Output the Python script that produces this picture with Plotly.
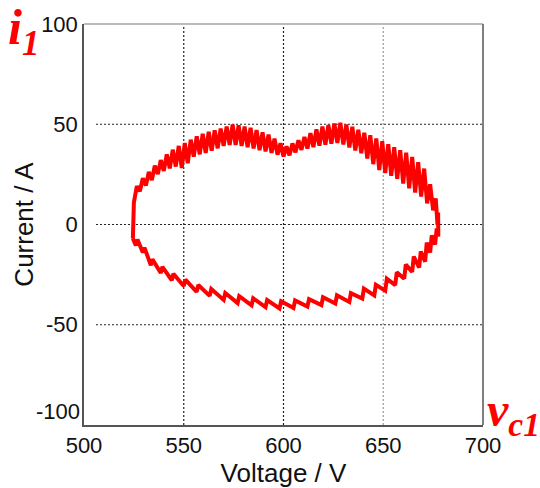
import plotly.graph_objects as go

# ---- data (voltage V, current A) ----
# upper branch of the loop (left -> right), with the high-frequency ripple
upper_v = [524.5, 524.7,
           525.0, 526.5, 528.0, 529.5, 531.0, 532.5, 534.0, 535.5, 537.0, 538.5,
           540.0, 541.5, 543.0, 544.5, 546.0, 547.5, 549.0, 550.5, 552.0, 553.5,
           555.0, 556.5, 558.0, 559.5, 561.0, 562.5, 564.0, 565.5, 567.0, 568.5,
           570.0, 571.5, 573.0, 574.5, 576.0, 577.5, 579.0, 580.5, 582.0, 583.5,
           585.0, 586.5, 588.0, 589.5, 591.0, 592.5, 594.0, 595.5, 597.0, 598.5,
           600.0, 601.5, 603.0, 604.5, 606.0, 607.5, 609.0, 610.5, 612.0, 613.5,
           615.0, 616.5, 618.0, 619.5, 621.0, 622.5, 624.0, 625.5, 627.0, 628.5,
           630.0, 631.5, 633.0, 634.5, 636.0, 637.5, 639.0, 640.5, 642.0, 643.5,
           645.0, 646.5, 648.0, 649.5, 651.0, 652.5, 654.0, 655.5, 657.0, 658.5,
           660.0, 661.5, 663.0, 664.5, 666.0, 667.5, 669.0, 670.5, 672.0, 673.5,
           675.0,
           676.3, 677.2, 677.5, 677.6]
upper_i = [-7.0, 11.0,
           11.0, 19.1, 16.6, 23.1, 19.4, 26.2, 22.2, 29.4, 25.1, 32.1,
           26.7, 35.0, 28.0, 37.3, 28.9, 39.2, 28.2, 40.6, 30.6, 42.3,
           33.8, 44.0, 35.0, 45.2, 35.7, 46.2, 36.8, 47.0, 38.0, 47.8,
           39.2, 48.9, 39.7, 49.9, 39.7, 49.5, 39.2, 48.9, 38.6, 48.2,
           37.9, 47.1, 37.1, 46.0, 36.5, 44.8, 35.7, 42.8, 34.8, 40.5,
           33.9, 39.0, 34.5, 40.4, 36.0, 42.0, 37.2, 43.7, 37.9, 45.6,
           38.6, 47.5, 39.3, 48.8, 39.8, 49.6, 40.3, 50.3, 40.7, 50.7,
           39.9, 49.9, 38.4, 48.7, 36.9, 47.2, 35.5, 45.8, 32.9, 44.5,
           30.1, 42.9, 27.2, 41.5, 25.7, 40.0, 24.3, 38.5, 22.8, 37.1,
           20.4, 35.8, 18.0, 33.7, 15.9, 31.1, 13.9, 27.9, 10.5, 20.1,
           7.1,
           13.0, 0.0, 6.0, -6.0]

# lower branch of the loop (right -> left), sawtooth ripple
lower_v = [676.8, 676.0, 674.3, 673.5, 671.8, 671.0, 668.8, 668.0, 665.3, 664.5, 661.3, 660.5,
           656.8, 656.0, 651.8, 651.0, 646.3, 645.5, 640.3, 639.5, 633.8, 633.0, 626.8, 626.0,
           619.8, 619.0, 612.8, 612.0, 605.8, 605.0, 598.8, 598.0, 591.8, 591.0, 584.8, 584.0,
           577.8, 577.0, 570.8, 570.0, 563.8, 563.0, 557.3, 556.5, 550.8, 550.0, 544.8, 544.0,
           539.3, 538.5, 534.3, 533.5, 530.3, 529.5, 526.8, 526.0, 524.5]
lower_i = [-2.0, -10.0, -5.5, -14.0, -9.0, -18.5, -13.5, -21.5, -16.0, -23.6, -20.0, -27.0,
           -23.8, -30.2, -27.0, -33.0, -30.1, -35.4, -32.0, -36.9, -34.2, -38.6, -35.3, -39.4,
           -36.3, -40.2, -37.2, -40.9, -37.9, -41.6, -38.3, -41.9, -37.7, -41.2, -36.8, -40.3,
           -35.7, -39.2, -34.2, -37.6, -32.2, -35.6, -30.2, -33.6, -27.5, -30.7, -24.6, -27.8,
           -21.1, -24.2, -17.4, -20.3, -11.5, -14.0, -7.5, -10.5, -7.0]

x_ticks = [500, 550, 600, 650, 700]
y_ticks = [-50, 0, 50, 100]
y_bottom_label = -100
v_grid_dark = [550, 600]
v_grid_light = [650]
h_grid = [-50, 0, 50]

TICK_FONT = dict(family="Liberation Sans, Arial, sans-serif", size=22, color="#111111")
TITLE_FONT = dict(family="Liberation Sans, Arial, sans-serif", size=26, color="#111111")
RED_FONT = "Liberation Serif, Times New Roman, serif"

fig = go.Figure()
fig.add_trace(go.Scatter(
    x=upper_v + lower_v, y=upper_i + lower_i, mode="lines",
    line=dict(color="#ff0000", width=4), hoverinfo="skip", showlegend=False))

shapes = []
for v in v_grid_dark:
    shapes.append(dict(type="line", xref="x", yref="paper", x0=v, x1=v, y0=0, y1=1,
                       line=dict(color="#222222", width=1.2, dash="2px,2px"), layer="below"))
for v in v_grid_light:
    shapes.append(dict(type="line", xref="x", yref="paper", x0=v, x1=v, y0=0, y1=1,
                       line=dict(color="#9a9a9a", width=1.2, dash="2px,2px"), layer="below"))
for h in h_grid:
    shapes.append(dict(type="line", xref="paper", yref="y", x0=0.03, x1=1, y0=h, y1=h,
                       line=dict(color="#222222", width=1.2, dash="2px,2px"), layer="below"))
# frame: light top edge, dark right edge
shapes.append(dict(type="line", xref="paper", yref="paper", x0=0, x1=1, y0=1, y1=1,
                   line=dict(color="#bbbbbb", width=2)))
shapes.append(dict(type="line", xref="paper", yref="paper", x0=1, x1=1, y0=0, y1=1,
                   line=dict(color="#555555", width=1.5)))

annotations = [
    dict(xref="x", yref="y", x=x_ticks[0], y=y_bottom_label, text=str(y_bottom_label),
         showarrow=False, xanchor="right", yanchor="middle", xshift=-2, yshift=14, font=TICK_FONT),
    dict(xref="paper", yref="paper", x=-0.195, y=1.012, xanchor="left", yanchor="top", yshift=22,
         text="<b><i>i</i></b><sub><b><i>1</i></b></sub>", showarrow=False,
         font=dict(family=RED_FONT, size=50, color="#ff0000")),
    dict(xref="paper", yref="paper", x=1.005, y=0.0, xanchor="left", yanchor="middle", yshift=12,
         text="<b><i>v</i></b><sub><b><i>c1</i></b></sub>", showarrow=False,
         font=dict(family=RED_FONT, size=48, color="#ff0000")),
]

fig.update_layout(
    width=540, height=488,
    margin=dict(l=84, r=57, t=16, b=60),
    paper_bgcolor="white", plot_bgcolor="white",
    shapes=shapes, annotations=annotations,
    xaxis=dict(range=[500, 700], tickvals=x_ticks, ticktext=[str(t) for t in x_ticks],
               showgrid=False, zeroline=False, showline=True, linecolor="#555555", linewidth=1.5,
               ticks="", tickfont=TICK_FONT,
               title=dict(text="Voltage / V", font=TITLE_FONT, standoff=0)),
    yaxis=dict(range=[-100, 100], tickvals=y_ticks, ticktext=[str(t) for t in y_ticks],
               showgrid=False, zeroline=False, showline=True, linecolor="#555555", linewidth=1.5,
               ticks="", tickfont=TICK_FONT,
               title=dict(text="Current / A", font=TITLE_FONT, standoff=0)),
)

fig.write_html("out.html")
